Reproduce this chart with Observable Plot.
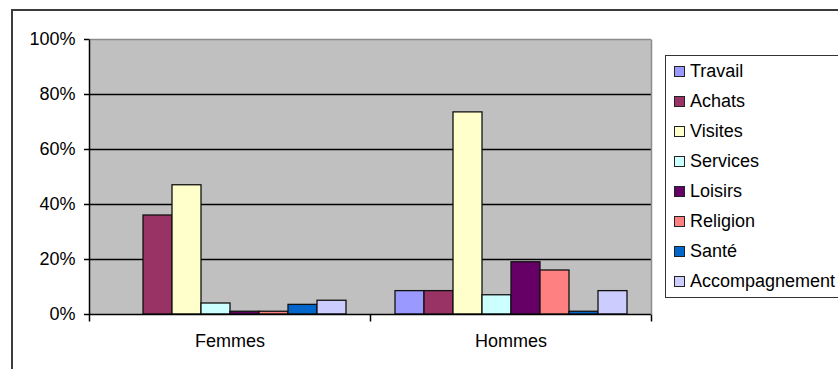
<!DOCTYPE html>
<html>
<head>
<meta charset="utf-8">
<script src="https://cdn.jsdelivr.net/npm/d3@7"></script>
<script src="https://cdn.jsdelivr.net/npm/@observablehq/plot@0.6"></script>
<style>
  body { margin: 0; background: #fff; font-family: "Liberation Sans", Arial, sans-serif; }
  #wrap { position: relative; width: 838px; height: 369px; overflow: hidden; background: #fff; }
  #border { position: absolute; left: 11px; top: 9px; width: 900px; height: 420px; border: 2px solid #3c3c3c; box-sizing: border-box; }
  #chart { position: absolute; left: 0; top: 0; }
  #legend { position: absolute; left: 665px; top: 55px; width: 220px; height: 243px; border: 1.5px solid #333; background: #fff; box-sizing: border-box; }
  .item { position: absolute; left: 0; height: 30px; display: flex; align-items: center; font-size: 18px; color: #000; white-space: nowrap; }
  .sw { width: 9px; height: 9px; border: 1px solid #222; margin-left: 8px; margin-right: 5px; }
</style>
</head>
<body>
<div id="wrap">
  <div id="border"></div>
  <div id="chart"></div>
  <div id="legend"></div>
</div>
<script>
const groups = ["Femmes", "Hommes"];
const series = ["Travail", "Achats", "Visites", "Services", "Loisirs", "Religion", "Santé", "Accompagnement"];
const colors = ["#9999FF", "#993366", "#FFFFCC", "#CCFFFF", "#660066", "#FF8080", "#0066CC", "#CCCCFF"];
const femmes = [0, 36, 47, 4, 1, 1, 3.5, 5];
const hommes = [8.5, 8.5, 73.5, 7, 19, 16, 1, 8.5];
const yTicks = [0, 20, 40, 60, 80, 100];

const W = 838, H = 369, mL = 89, mR = 187, mT = 39, mB = 55;
const innerH = H - mT - mB;

const data = [];
series.forEach((s, i) => {
  data.push({g: groups[0], s, v: femmes[i]});
  data.push({g: groups[1], s, v: hommes[i]});
});

// vertical tick symbols (layout helpers)
const downTick = {draw(ctx) { ctx.moveTo(0, 0); ctx.lineTo(0, 7); }};
const leftAxis = {draw(ctx) { ctx.moveTo(0, 7); ctx.lineTo(0, -innerH); }};
const rightEdge = {draw(ctx) { ctx.moveTo(0, 0); ctx.lineTo(0, innerH); }};

const chart = Plot.plot({
  width: W, height: H,
  marginLeft: mL, marginRight: mR, marginTop: mT, marginBottom: mB,
  style: {fontFamily: "'Liberation Sans', Arial, sans-serif", fontSize: "18px", background: "transparent", color: "#000"},
  fx: {domain: groups, padding: 0, label: null},
  x: {domain: series, paddingInner: 0, paddingOuter: 0.76, axis: null},
  y: {domain: [0, 100], label: null, axis: null},
  color: {domain: series, range: colors},
  marks: [
    Plot.frame({fill: "#c0c0c0", stroke: null, shapeRendering: "crispEdges"}),
    Plot.ruleY([100], {stroke: "#8c8c8c", strokeWidth: 1.5}),
    Plot.ruleY(yTicks.slice(1, -1), {stroke: "#000", strokeWidth: 1.5}),
    Plot.barY(data, {fx: "g", x: "s", y: "v", fill: "s", stroke: "#111", strokeWidth: 1.3}),
    Plot.ruleY([0], {stroke: "#000", strokeWidth: 1.5}),
    Plot.dot([groups[0]], {fx: d => d, frameAnchor: "bottom-left", symbol: leftAxis, stroke: "#000", strokeWidth: 1.5, fill: "none"}),
    Plot.dot(groups, {fx: d => d, frameAnchor: "bottom-right", symbol: downTick, stroke: "#000", strokeWidth: 1.5, fill: "none"}),
    Plot.dot([groups[1]], {fx: d => d, frameAnchor: "top-right", symbol: rightEdge, stroke: "#8c8c8c", strokeWidth: 1.5, fill: "none"}),
    Plot.axisY(yTicks, {tickSize: 5, tickPadding: 9, tickFormat: d => d + "%", fontSize: 18, label: null, strokeWidth: 1.5}),
    Plot.axisFx({anchor: "bottom", tickSize: 0, tickPadding: 20, fontSize: 18, label: null})
  ]
});
document.getElementById("chart").appendChild(chart);

const legend = document.getElementById("legend");
series.forEach((s, i) => {
  const item = document.createElement("div");
  item.className = "item";
  item.style.top = (i * 30) + "px";
  const sw = document.createElement("div");
  sw.className = "sw";
  sw.style.background = colors[i];
  const t = document.createElement("span");
  t.textContent = s;
  item.appendChild(sw);
  item.appendChild(t);
  legend.appendChild(item);
});
</script>
</body>
</html>
